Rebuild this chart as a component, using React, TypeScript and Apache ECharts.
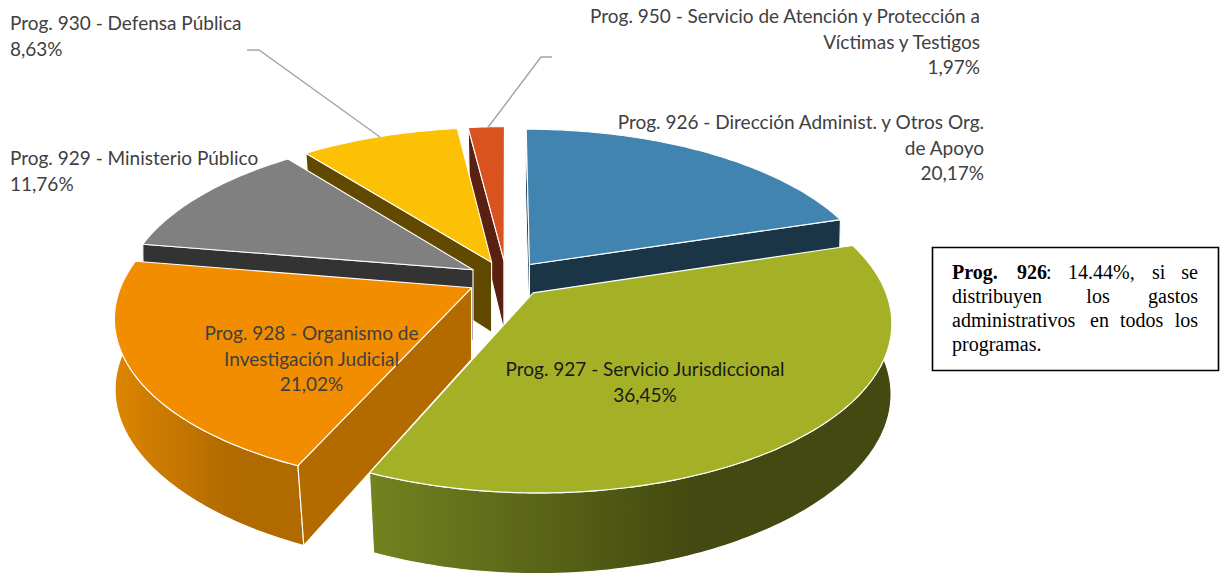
import React, { useEffect, useRef } from "react";
import * as echarts from "echarts";

// Data, in pie order (clockwise from the top of the pie)
const programs = ["926", "927", "928", "929", "930", "950"];
const shares = [20.17, 36.45, 21.02, 11.76, 8.63, 1.97];
const topColors = ["#4184b0", "#a4b126", "#f38d00", "#808080", "#fcc005", "#db5221"];
const wallColors = ["#1a3545", "#46480f", "#b36b00", "#333333", "#614900", "#5a2010"];
const rimFrom = ["#1a3545", "#72831f", "#dc8500", "#333333", "#614900", "#5a2010"];
const rimTo = ["#1a3545", "#434910", "#b16a00", "#333333", "#614900", "#5a2010"];
const paintOrder = [0, 5, 4, 3, 2, 1];

const labelTexts = [
  "Prog. 930 - Defensa Pública\n8,63%",
  "Prog. 929 - Ministerio Público\n11,76%",
  "Prog. 950 - Servicio de Atención y Protección a\nVíctimas y Testigos\n1,97%",
  "Prog. 926 - Dirección Administ. y Otros Org.\nde Apoyo\n20,17%",
  "Prog. 927 - Servicio Jurisdiccional\n36,45%",
  "Prog. 928 - Organismo de\nInvestigación Judicial\n21,02%",
];

// Projection of the tilted pie
const CX = 506.5, CY = 279, A = 348, B = 162, K = 0.165, EXPLODE = 0.113;
const project = (X: number, Y: number) => {
  const s = 1 / (1 - K * Y);
  return [CX + A * X * s, CY + B * Y * s];
};
const projectLow = (X: number, Y: number) => {
  const s = 1 / (1 - K * Y);
  return [CX + A * X * s * (1 - 0.03 * Y * Y), CY + B * Y * s + 71 + 9 * Y];
};

const starts: number[] = [];
shares.reduce((acc, v, i) => {
  starts[i] = acc;
  return acc + v;
}, 0);

function renderSlice(params: any) {
  const i = paintOrder[params.dataIndex];
  const a0 = (starts[i] / 100) * 2 * Math.PI;
  const a1 = ((starts[i] + shares[i]) / 100) * 2 * Math.PI;
  const mid = (a0 + a1) / 2;
  const ox = Math.sin(mid) * EXPLODE;
  const oy = -Math.cos(mid) * EXPLODE;
  const n = Math.max(3, Math.ceil(((a1 - a0) * 180) / Math.PI));
  const ground: number[][] = [];
  for (let k = 0; k <= n; k++) {
    const t = a0 + ((a1 - a0) * k) / n;
    ground.push([ox + Math.sin(t), oy - Math.cos(t)]);
  }
  const topArc = ground.map((g) => project(g[0], g[1]));
  const lowArc = ground.map((g) => projectLow(g[0], g[1]));
  const apex = project(ox, oy);
  const apexLow = projectLow(ox, oy);
  const edge = { stroke: "#ffffff", lineWidth: 1.1, lineJoin: "round" };
  const wall = (p: number[][]) => ({
    type: "polygon",
    shape: { points: p },
    style: { fill: wallColors[i], ...edge },
  });
  const children: any[] = [
    {
      type: "polygon",
      shape: { points: [...topArc, ...lowArc.slice().reverse()] },
      style: {
        fill: new echarts.graphic.LinearGradient(0, 0, 1, 0, [
          { offset: 0, color: rimFrom[i] },
          { offset: 0.62, color: rimTo[i] },
          { offset: 1, color: rimTo[i] },
        ]),
        ...edge,
      },
    },
  ];
  // A radial wall faces the viewer only on one side of the apex
  if (topArc[0][0] < apex[0]) children.push(wall([apex, topArc[0], lowArc[0], apexLow]));
  if (topArc[n][0] > apex[0]) children.push(wall([apex, topArc[n], lowArc[n], apexLow]));
  children.push({
    type: "polygon",
    shape: { points: [apex, ...topArc] },
    style: { fill: topColors[i], ...edge },
  });
  return { type: "group", children };
}

const labelFont = '19px Lato, "Noto Sans", sans-serif';
const boxFont = '20px "Liberation Serif", serif';
const boxBold = 'bold 20px "Liberation Serif", serif';

const txt = (text: string, x: number, y: number, align: string, fill = "#404040", font = labelFont, lineHeight = 25.5) => ({
  type: "text",
  z: 100,
  x,
  y,
  style: { text, fill, font, align, verticalAlign: "top", lineHeight },
});

const boxWords: [string, number, number, string, string][] = [
  ["Prog.", 952, 272, "left", boxBold],
  ["926", 1017, 272, "left", boxBold],
  [":", 1046, 272, "left", boxFont],
  ["14.44%,", 1068, 272, "left", boxFont],
  ["si", 1152, 272, "left", boxFont],
  ["se", 1198, 272, "right", boxFont],
  ["distribuyen", 952, 296, "left", boxFont],
  ["los", 1098, 296, "center", boxFont],
  ["gastos", 1198, 296, "right", boxFont],
  ["administrativos", 952, 320, "left", boxFont],
  ["en", 1090, 320, "left", boxFont],
  ["todos", 1120, 320, "left", boxFont],
  ["los", 1198, 320, "right", boxFont],
  ["programas.", 952, 344, "left", boxFont],
];

export default function App() {
  const ref = useRef<HTMLDivElement>(null);
  useEffect(() => {
    const chart = echarts.init(ref.current!, null, { renderer: "svg" });
    chart.setOption({
      animation: false,
      backgroundColor: "#ffffff",
      series: [
        {
          type: "custom",
          coordinateSystem: "none",
          name: "Programas",
          data: paintOrder.map((i) => ({ name: programs[i], value: shares[i] })),
          renderItem: renderSlice,
          silent: true,
        },
      ],
      graphic: [
        {
          type: "polyline",
          z: 90,
          shape: { points: [[247, 50], [259, 50], [380, 137]] },
          style: { stroke: "#a6a6a6", lineWidth: 1.5, fill: "none" },
        },
        {
          type: "polyline",
          z: 90,
          shape: { points: [[552, 57], [541, 57], [487.5, 128]] },
          style: { stroke: "#a6a6a6", lineWidth: 1.5, fill: "none" },
        },
        {
          type: "rect",
          z: 90,
          shape: { x: 932.5, y: 247.5, width: 286, height: 123 },
          style: { fill: "#ffffff", stroke: "#000000", lineWidth: 1.6 },
        },
        txt(labelTexts[0], 10, 10, "left"),
        txt(labelTexts[1], 10, 145, "left"),
        txt(labelTexts[2], 980, 3, "right"),
        txt(labelTexts[3], 984, 109, "right"),
        txt(labelTexts[4], 645, 356, "center", "#1a1a1a"),
        txt(labelTexts[5], 311.5, 320, "center"),
        ...boxWords.map((w) => ({
          type: "text",
          z: 100,
          x: w[1],
          y: w[2],
          style: { text: w[0], fill: "#000000", font: w[4], align: w[3], verticalAlign: "middle" },
        })),
      ],
    });
    return () => chart.dispose();
  }, []);
  return <div ref={ref} style={{ position: "absolute", left: 0, top: 0, width: 1225, height: 573 }} />;
}
